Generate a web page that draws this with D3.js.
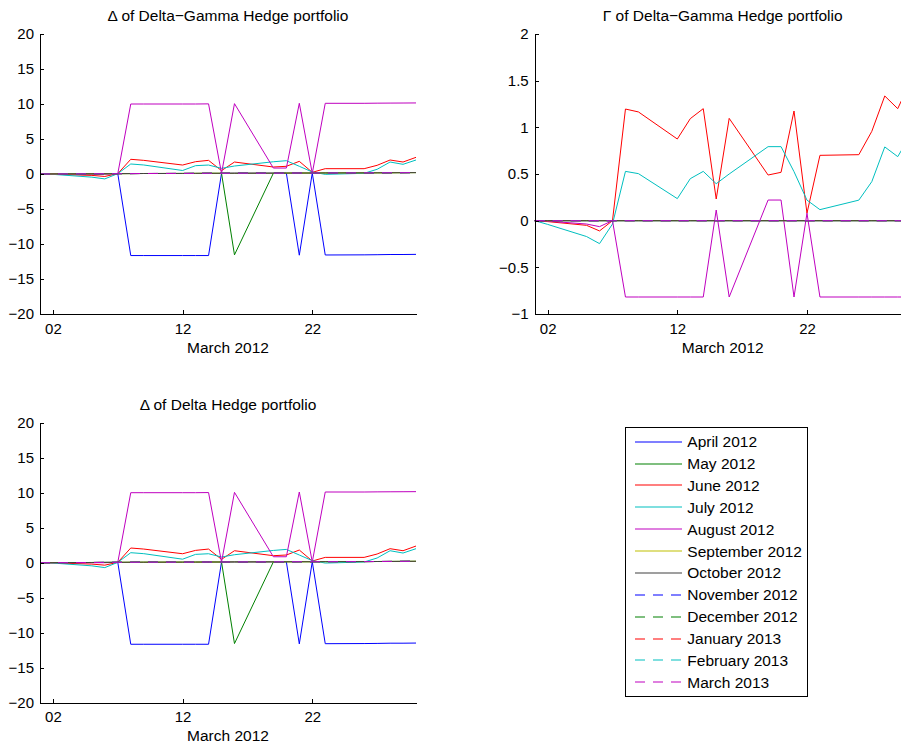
<!DOCTYPE html>
<html>
<head>
<meta charset="utf-8">
<script src="https://cdn.jsdelivr.net/npm/d3@7"></script>
<style>
  html, body { margin: 0; padding: 0; background: #fff; }
  svg { display: block; font-family: "Liberation Sans", Arial, Helvetica, sans-serif; }
  .axis text { font-size: 15px; fill: #000; }
  .axis path, .axis line { stroke: #000; shape-rendering: crispEdges; }
</style>
</head>
<body>
<svg id="chart" width="901" height="744"></svg>
<script>
// Trading days of March 2012
const dates = [
  "2012-03-01", "2012-03-02", "2012-03-05", "2012-03-06", "2012-03-07",
  "2012-03-08", "2012-03-09", "2012-03-12", "2012-03-13", "2012-03-14",
  "2012-03-15", "2012-03-16", "2012-03-19", "2012-03-20", "2012-03-21",
  "2012-03-22", "2012-03-23", "2012-03-26", "2012-03-27", "2012-03-28",
  "2012-03-29", "2012-03-30"
];

// Futures contracts held in the hedge portfolio
const contracts = [
  "April 2012", "May 2012", "June 2012", "July 2012", "August 2012",
  "September 2012", "October 2012", "November 2012", "December 2012",
  "January 2013", "February 2013", "March 2013"
];

// Delta of the Delta-Gamma hedge portfolio, one array per contract
const deltaDrift = [0, 0.01, 0.03, 0.04, 0.05, 0.06, 0.07, 0.08, 0.09, 0.1, 0.1, 0.11, 0.12, 0.13, 0.14, 0.14, 0.15, 0.16, 0.17, 0.18, 0.19, 0.2];
const deltaApr12 = [0, 0.01, 0.03, 0.04, 0.05, -11.65, -11.65, -11.65, -11.65, -11.65, 0.1, 0.11, 0.12, 0.13, -11.6, 0.14, -11.57, -11.55, -11.53, -11.5, -11.5, -11.48];
const deltaMay12 = [0, 0.01, 0.03, 0.04, 0.05, 0.06, 0.07, 0.08, 0.09, 0.1, 0.1, -11.55, 0.12, 0.13, 0.14, 0.14, 0.15, 0.16, 0.17, 0.18, 0.19, 0.2];
const deltaJun12 = [0, -0.03, -0.2, -0.35, 0.05, 2.1, 1.95, 1.28, 1.76, 1.95, 0.48, 1.71, 1.0, 1.1, 1.81, 0.24, 0.76, 0.76, 1.24, 2.0, 1.71, 2.38];
const deltaJul12 = [0, -0.05, -0.45, -0.7, 0.05, 1.43, 1.29, 0.5, 1.19, 1.28, 0.81, 1.14, 1.75, 1.9, 1.1, 0.29, -0.05, 0.1, 0.67, 1.71, 1.38, 2.0];
const deltaAug12 = [0, 0, 0, 0, 0.05, 10.0, 10.0, 10.0, 10.0, 10.02, 0.1, 10.05, 0.85, 0.85, 10.1, 0.1, 10.1, 10.1, 10.12, 10.13, 10.14, 10.15];
const deltaDG = [deltaApr12, deltaMay12, deltaJun12, deltaJul12, deltaAug12,
  deltaDrift, deltaDrift, deltaDrift, deltaDrift, deltaDrift, deltaDrift, deltaDrift];

// Gamma of the Delta-Gamma hedge portfolio
const gammaZero = [0, 0, 0, 0, 0, 0, 0, 0, 0, 0, 0, 0, 0, 0, 0, 0, 0, 0, 0, 0, 0, 0];
const gammaJun12 = [0, -0.01, -0.05, -0.11, 0, 1.196, 1.165, 0.875, 1.093, 1.2, 0.232, 1.096, 0.489, 0.518, 1.175, 0.08, 0.7, 0.707, 0.957, 1.336, 1.2, 1.5];
const gammaJul12 = [0, -0.04, -0.17, -0.246, -0.036, 0.528, 0.504, 0.236, 0.45, 0.528, 0.396, 0.5, 0.793, 0.793, 0.525, 0.22, 0.118, 0.22, 0.418, 0.79, 0.686, 0.92];
const gammaAug12 = [0, -0.005, -0.036, -0.064, 0, -0.818, -0.818, -0.818, -0.818, -0.818, 0.114, -0.818, 0.221, 0.221, -0.818, 0.08, -0.818, -0.818, -0.818, -0.818, -0.818, -0.818];
const gammaDG = [gammaZero, gammaZero, gammaJun12, gammaJul12, gammaAug12,
  gammaZero, gammaZero, gammaZero, gammaZero, gammaZero, gammaZero, gammaZero];

// Delta of the plain Delta hedge portfolio
const deltaD = deltaDG;

// Axis ticks
const deltaTicks = [-20, -15, -10, -5, 0, 5, 10, 15, 20];
const gammaTicks = [-1, -0.5, 0, 0.5, 1, 1.5, 2];
const dateTicks = ["2012-03-02", "2012-03-12", "2012-03-22"];

// Line styles cycle through seven colours, solid then dashed
const palette = ["#0000ff", "#008000", "#ff0000", "#00bfbf", "#bf00bf", "#bfbf00", "#404040"];
const colorOf = i => palette[i % palette.length];
const dashOf = i => (i >= palette.length ? "10,8" : null);

const parse = d3.timeParse("%Y-%m-%d");
const xDates = dates.map(parse);
const fmtNum = v => (v < 0 ? "\u2212" + Math.abs(v) : String(v));

const svg = d3.select("#chart");

function panel(opts) {
  const { left, right, top, bottom, domain, ticks, title, series } = opts;
  const x = d3.scaleTime()
    .domain([parse("2012-03-01"), parse("2012-03-30")])
    .range([left, right]);
  const y = d3.scaleLinear().domain(domain).range([bottom, top]);
  const g = svg.append("g");

  const line = d3.line()
    .x((d, i) => x(xDates[i]))
    .y(d => y(d));

  series.forEach((vals, i) => {
    g.append("path")
      .datum(vals)
      .attr("fill", "none")
      .attr("stroke", colorOf(i))
      .attr("stroke-width", 1)
      .attr("stroke-dasharray", dashOf(i))
      .attr("d", line);
  });

  g.append("g")
    .attr("class", "axis")
    .attr("transform", `translate(0,${bottom})`)
    .call(d3.axisBottom(x)
      .tickValues(dateTicks.map(parse))
      .tickFormat(d3.timeFormat("%d"))
      .tickSizeInner(-4).tickSizeOuter(0).tickPadding(9));

  g.append("g")
    .attr("class", "axis")
    .attr("transform", `translate(${left},0)`)
    .call(d3.axisLeft(y)
      .tickValues(ticks)
      .tickFormat(fmtNum)
      .tickSizeInner(-4).tickSizeOuter(0).tickPadding(6));

  g.append("text")
    .attr("x", (left + right) / 2)
    .attr("y", top - 13)
    .attr("text-anchor", "middle")
    .attr("font-size", 15.5)
    .text(title);

  g.append("text")
    .attr("x", (left + right) / 2)
    .attr("y", bottom + 38.5)
    .attr("text-anchor", "middle")
    .attr("font-size", 15.5)
    .text("March 2012");
}

panel({ left: 40, right: 416, top: 34, bottom: 314, domain: [-20, 20], ticks: deltaTicks,
  title: "\u0394 of Delta\u2212Gamma Hedge portfolio", series: deltaDG });
panel({ left: 534.7, right: 910.7, top: 34, bottom: 314, domain: [-1, 2], ticks: gammaTicks,
  title: "\u0393 of Delta\u2212Gamma Hedge portfolio", series: gammaDG });
panel({ left: 40, right: 416, top: 422.7, bottom: 702.7, domain: [-20, 20], ticks: deltaTicks,
  title: "\u0394 of Delta Hedge portfolio", series: deltaD });

// Legend
const legend = svg.append("g");
const lgX = 625.5, lgY = 427.5, lgW = 182, lgH = 269;
legend.append("rect")
  .attr("x", lgX).attr("y", lgY).attr("width", lgW).attr("height", lgH)
  .attr("fill", "#fff").attr("stroke", "#000").attr("stroke-width", 1);
const rowY = d3.scalePoint().domain(contracts).range([441.7, 682.3]);
contracts.forEach((name, i) => {
  const yy = rowY(name);
  const ly = Math.round(yy);
  legend.append("line")
    .attr("x1", 635).attr("x2", 682).attr("y1", ly).attr("y2", ly)
    .attr("stroke", colorOf(i)).attr("stroke-width", 1.2)
    .attr("stroke-dasharray", dashOf(i));
  legend.append("text")
    .attr("x", 687.3).attr("y", yy + 5.5)
    .attr("font-size", 15.5)
    .text(name);
});
</script>
</body>
</html>
